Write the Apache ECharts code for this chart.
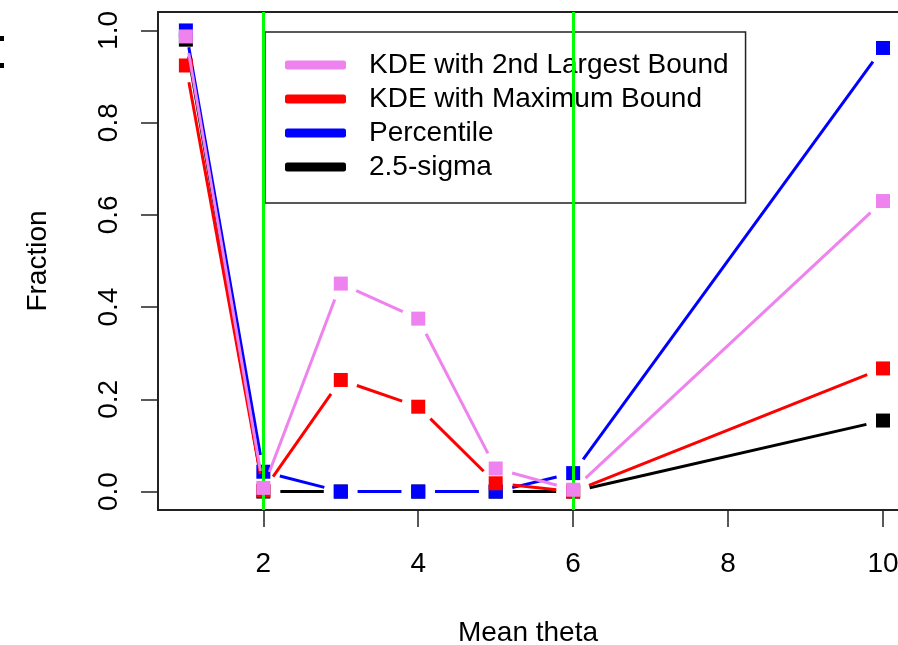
<!DOCTYPE html>
<html><head><meta charset="utf-8">
<script src="https://cdn.jsdelivr.net/npm/echarts@6/dist/echarts.min.js"></script>
<style>html,body{margin:0;padding:0;background:#fff;overflow:hidden}#c{width:898px;height:645px}</style>
</head><body><div id="c"></div>
<script>
// ---- data ----
const thetaValues = [1, 2, 3, 4, 5, 6, 10];
const kde2nd     = [0.987, 0.008, 0.451, 0.375, 0.050, 0.004, 0.630];
const kdeMax     = [0.924, 0.002, 0.242, 0.184, 0.018, 0.000, 0.267];
const percentile = [1.000, 0.043, 0.000, 0.000, 0.000, 0.040, 0.962];
const sigma25    = [0.980, 0.000, 0.000, 0.000, 0.000, 0.000, 0.154];
const xTicks = [2, 4, 6, 8, 10];
const yTicks = [0, 0.2, 0.4, 0.6, 0.8, 1.0];
const boundaryLines = [2, 6];
const seriesNames = ['KDE with 2nd Largest Bound', 'KDE with Maximum Bound', 'Percentile', '2.5-sigma'];

const FONT = 'Liberation Sans, Arial, Helvetica, sans-serif';
const GAP = 17;
const SQ = 14;
const X_MIN = 0.64, X_MAX = 10.194;   // plot is cropped at the right edge of the picture
const Y_MIN = -0.04, Y_MAX = 1.04;

function makeSeries(name, values, color, z) {
  return {
    type: 'custom', name: name, z: z,
    coordinateSystem: 'cartesian2d', xAxisIndex: 0, yAxisIndex: 0,
    itemStyle: { color: color },
    encode: { x: 0, y: 1 },
    data: thetaValues.map((x, i) => [x, values[i]]),
    renderItem: function (params, api) {
      const i = params.dataIndex;
      const p = api.coord([thetaValues[i], values[i]]);
      const children = [];
      if (i < thetaValues.length - 1) {
        const q = api.coord([thetaValues[i + 1], values[i + 1]]);
        const dx = q[0] - p[0], dy = q[1] - p[1];
        const d = Math.hypot(dx, dy);
        if (d > 2 * GAP) {
          const ux = dx / d, uy = dy / d;
          children.push({ type: 'line',
            shape: { x1: p[0] + ux * GAP, y1: p[1] + uy * GAP, x2: q[0] - ux * GAP, y2: q[1] - uy * GAP },
            style: { stroke: color, lineWidth: 3 } });
        }
      }
      children.push({ type: 'rect', shape: { x: p[0] - SQ / 2, y: p[1] - SQ / 2, width: SQ, height: SQ },
        style: { fill: color } });
      return { type: 'group', children: children };
    }
  };
}

const chart = echarts.init(document.getElementById('c'), null, { renderer: 'canvas' });
chart.setOption({
  animation: false,
  backgroundColor: '#fff',
  grid: { left: 158, top: 12, right: 0, height: 498, show: false, containLabel: false, outerBoundsMode: 'none' },
  xAxis: [{
    type: 'value', min: X_MIN, max: X_MAX, position: 'bottom',
    name: 'Mean theta', nameLocation: 'middle', nameGap: 109,
    nameTextStyle: { fontSize: 28, fontFamily: FONT, color: '#000' },
    axisLine: { show: true, onZero: false, lineStyle: { color: '#222', width: 2 } },
    splitLine: { show: false },
    axisTick: { show: true, customValues: xTicks, length: 17, lineStyle: { color: '#222', width: 1.5 } },
    axisLabel: { customValues: xTicks, fontSize: 28, fontFamily: FONT, color: '#000', margin: 40 }
  }, {
    type: 'value', min: X_MIN, max: X_MAX, position: 'top',
    axisLine: { show: true, onZero: false, lineStyle: { color: '#222', width: 2 } },
    axisTick: { show: false }, axisLabel: { show: false }, splitLine: { show: false }
  }],
  yAxis: {
    type: 'value', min: Y_MIN, max: Y_MAX,
    name: 'Fraction', nameLocation: 'middle', nameGap: 106,
    nameTextStyle: { fontSize: 28, fontFamily: FONT, color: '#000' },
    axisLine: { show: true, onZero: false, lineStyle: { color: '#222', width: 2 } },
    splitLine: { show: false },
    axisTick: { show: true, customValues: yTicks, length: 17, lineStyle: { color: '#222', width: 1.5 } },
    axisLabel: { customValues: yTicks, rotate: 90, formatter: v => v.toFixed(1), fontSize: 28, fontFamily: FONT, color: '#000', margin: 35 }
  },
  legend: {
    orient: 'vertical', left: 265, top: 32,
    padding: [19, 17, 22, 20],
    itemWidth: 61, itemHeight: 9, itemGap: 6,
    borderColor: '#222', borderWidth: 1.5,
    icon: 'roundRect', selectedMode: false,
    data: seriesNames,
    textStyle: { fontSize: 28, fontFamily: FONT, color: '#000', padding: [0, 0, 0, 18], lineHeight: 28 }
  },
  series: [
    makeSeries(seriesNames[3], sigma25, '#000000', 2),
    makeSeries(seriesNames[2], percentile, '#0000FF', 3),
    makeSeries(seriesNames[1], kdeMax, '#FF0000', 4),
    makeSeries(seriesNames[0], kde2nd, '#EE82EE', 5),
    {
      type: 'line', name: 'boundaries', data: [], z: 10, silent: true,
      markLine: {
        silent: true, symbol: ['none', 'none'], label: { show: false },
        lineStyle: { color: '#00FF00', width: 3, type: 'solid' },
        data: boundaryLines.map(v => ({ xAxis: v }))
      }
    }
  ],
  graphic: [
    { type: 'rect', shape: { x: 0, y: 36, width: 4, height: 5 }, style: { fill: '#000' } },
    { type: 'rect', shape: { x: 0, y: 63, width: 4, height: 5 }, style: { fill: '#000' } }
  ]
});
</script></body></html>
